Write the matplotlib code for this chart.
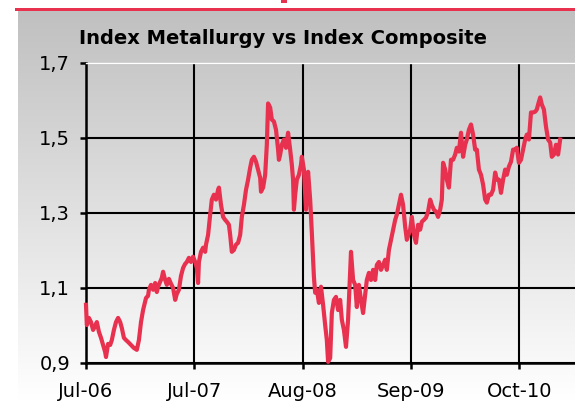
import numpy as np
import matplotlib.pyplot as plt
from matplotlib.patches import Rectangle

# trading session index and ratio (Index Metallurgy / Index Composite)
session = [0, 2, 7, 12, 17, 22, 26, 31, 36, 41, 46, 48, 53, 58, 62, 67, 72, 77, 82, 86,
           91, 96, 101, 108, 115, 122, 127, 132, 137, 144, 149, 151, 156, 161, 166, 170, 173, 178, 182, 185,
           190, 194, 199, 204, 209, 214, 218, 223, 228, 233, 238, 242, 247, 252, 257, 262, 266, 269, 271, 276,
           281, 286, 288, 293, 298, 302, 307, 312, 317, 319, 324, 329, 334, 338, 343, 346, 350, 355, 360, 365,
           370, 374, 379, 384, 389, 394, 398, 403, 408, 413, 418, 420, 425, 430, 434, 437, 442, 446, 451, 456,
           461, 463, 466, 470, 475, 480, 485, 490, 494, 497, 499, 502, 506, 511, 516, 518, 523, 528, 533, 538,
           542, 547, 550, 554, 559, 564, 569, 574, 578, 581, 586, 590, 595, 600, 605, 610, 614, 619, 624, 629,
           634, 636, 641, 646, 650, 655, 660, 665, 670, 674, 679, 684, 689, 694, 698, 703, 708, 713, 718, 722,
           727, 732, 737, 742, 746, 751, 756, 761, 766, 770, 778, 782, 787, 792, 797, 802, 806, 811, 816, 821,
           826, 830, 835, 840, 845, 850, 854, 857, 862, 866, 871, 876, 881, 886, 890, 895, 900, 905, 910, 914,
           919, 924, 929, 934, 938, 943, 948, 953, 958, 962, 967, 972, 977, 982, 986, 991, 996, 1001, 1006, 1010,
           1015, 1020, 1025, 1030, 1034, 1039, 1044, 1049, 1054, 1058, 1063, 1068, 1073, 1078, 1082, 1085, 1090, 1094, 1099, 1104,
           1109, 1114, 1118, 1123, 1128, 1133, 1138]
ratio = [1.055, 1.001, 1.020, 1.009, 0.988, 0.999, 1.009, 0.983, 0.967, 0.948, 0.929, 0.916, 0.951, 0.948, 0.961, 0.988, 1.009, 1.020, 1.009, 0.993,
         0.967, 0.961, 0.956, 0.948, 0.940, 0.935, 0.961, 1.009, 1.041, 1.073, 1.079, 1.095, 1.108, 1.095, 1.113, 1.089, 1.103, 1.116, 1.127, 1.143,
         1.121, 1.108, 1.124, 1.111, 1.100, 1.068, 1.084, 1.095, 1.132, 1.153, 1.164, 1.169, 1.180, 1.169, 1.183, 1.169, 1.153, 1.113, 1.169, 1.196,
         1.207, 1.196, 1.215, 1.241, 1.295, 1.335, 1.348, 1.335, 1.361, 1.367, 1.321, 1.289, 1.281, 1.276, 1.268, 1.241, 1.196, 1.201, 1.215, 1.220,
         1.241, 1.289, 1.321, 1.361, 1.388, 1.420, 1.441, 1.449, 1.436, 1.415, 1.393, 1.356, 1.367, 1.401, 1.481, 1.591, 1.580, 1.548, 1.543, 1.521,
         1.468, 1.441, 1.455, 1.481, 1.495, 1.473, 1.513, 1.468, 1.428, 1.388, 1.308, 1.348, 1.388, 1.401, 1.428, 1.449, 1.415, 1.308, 1.409, 1.335,
         1.247, 1.129, 1.087, 1.095, 1.060, 1.103, 1.055, 1.001, 0.961, 0.903, 0.913, 1.033, 1.068, 1.076, 1.041, 1.068, 1.015, 0.988, 0.943, 1.015,
         1.148, 1.196, 1.121, 1.108, 1.049, 1.108, 1.068, 1.033, 1.081, 1.121, 1.140, 1.121, 1.148, 1.121, 1.161, 1.169, 1.148, 1.161, 1.175, 1.148,
         1.201, 1.228, 1.255, 1.281, 1.295, 1.321, 1.348, 1.321, 1.263, 1.228, 1.255, 1.289, 1.241, 1.220, 1.268, 1.255, 1.276, 1.281, 1.287, 1.303,
         1.335, 1.321, 1.308, 1.303, 1.289, 1.308, 1.335, 1.433, 1.415, 1.388, 1.367, 1.441, 1.441, 1.455, 1.473, 1.463, 1.513, 1.449, 1.481, 1.495,
         1.521, 1.535, 1.508, 1.468, 1.468, 1.415, 1.401, 1.375, 1.335, 1.327, 1.348, 1.348, 1.361, 1.407, 1.388, 1.388, 1.353, 1.388, 1.415, 1.401,
         1.423, 1.436, 1.468, 1.468, 1.473, 1.433, 1.441, 1.468, 1.495, 1.508, 1.495, 1.567, 1.567, 1.569, 1.575, 1.588, 1.607, 1.588, 1.575, 1.529,
         1.495, 1.487, 1.449, 1.455, 1.481, 1.455, 1.495]

tick_pos = [0, 260, 520, 780, 1040]
tick_labels = ["Jul-06", "Jul-07", "Aug-08", "Sep-09", "Oct-10"]
y_ticks = [0.9, 1.1, 1.3, 1.5, 1.7]
y_labels = ["0,9", "1,1", "1,3", "1,5", "1,7"]

RED = "#e8304f"
W, H = 575, 401

fig = plt.figure(figsize=(W / 100, H / 100), dpi=100)
fig.patch.set_facecolor("white")

# grey to white gradient panel behind the chart
bg = fig.add_axes([18 / W, 0, 1 - 18 / W, (H - 10) / H], zorder=0)
grad = np.linspace(0, 1, 256).reshape(-1, 1)
bg.imshow(grad, aspect="auto", cmap=plt.matplotlib.colors.LinearSegmentedColormap.from_list(
    "g", ["#c0c0c0", "#ffffff"]), extent=[0, 1, 0, 1], origin="upper")
bg.set_axis_off()

# red rule at the very top
fig.add_artist(Rectangle((15 / W, (H - 11) / H), 1, 3 / H, transform=fig.transFigure,
                         color=RED, lw=0))
fig.add_artist(Rectangle((281 / W, (H - 3) / H), 6 / W, 3 / H, transform=fig.transFigure,
                         color=RED, lw=0))

ax = fig.add_axes([86 / W, 38 / H, 500 / W, 300.5 / H], zorder=1)
ax.set_facecolor("none")
ax.plot(session, ratio, color=RED, lw=3, solid_joinstyle="round", zorder=3, clip_on=False)

ax.set_xlim(0, 1200)
ax.set_ylim(0.9, 1.7)
ax.set_xticks(tick_pos)
ax.set_xticklabels(tick_labels)
ax.set_yticks(y_ticks)
ax.set_yticklabels(y_labels)
ax.grid(True, color="black", lw=1.5)
ax.set_axisbelow(True)
ax.tick_params(axis="both", labelsize=14, width=1.8, length=4.5, color="black")
ax.tick_params(axis="y", pad=7)
ax.tick_params(axis="x", pad=9)
for s in ["left", "bottom"]:
    ax.spines[s].set_linewidth(1.8)
ax.spines["top"].set_color("white")
ax.spines["top"].set_linewidth(1)
ax.spines["right"].set_visible(False)

fig.text(283 / W, 1 - 38 / H, "Index Metallurgy vs Index Composite", ha="center", va="center",
         fontsize=14, fontweight="bold")

fig.savefig("out.png", dpi=100)
